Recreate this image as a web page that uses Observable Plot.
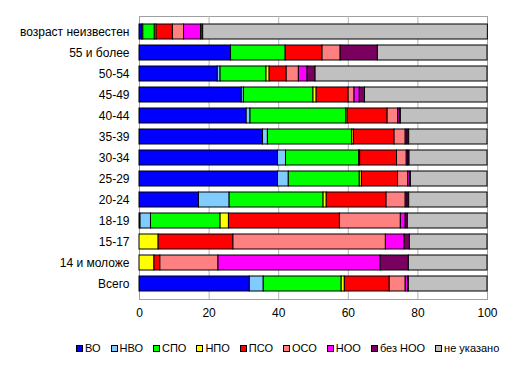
<!DOCTYPE html>
<html>
<head>
<meta charset="utf-8">
<script src="https://cdn.jsdelivr.net/npm/d3@7"></script>
<script src="https://cdn.jsdelivr.net/npm/@observablehq/plot@0.6"></script>
<style>
  body { margin: 0; background: white; font-family: Arial, "Liberation Sans", sans-serif; }
  #legend { display: flex; align-items: center; padding-left: 76px; margin-top: 16px; height: 14px; font-size: 11px; color: black; white-space: nowrap; }
  .item { display: flex; align-items: center; margin-right: 10px; white-space: nowrap; }
  .sw { width: 5px; height: 5px; border: 1px solid black; margin-right: 2px; }
</style>
</head>
<body>
<div id="chart"></div>
<script>
const categories = ["возраст неизвестен","55 и более","50-54","45-49","40-44","35-39","30-34","25-29","20-24","18-19","15-17","14 и моложе","Всего"];
const series = ["ВО","НВО","СПО","НПО","ПСО","ОСО","НОО","без НОО","не указано"];
const colors = ["#0000ff","#80ccff","#00ff00","#ffff00","#ff0000","#ff8080","#ff00ff","#7a0060","#c0c0c0"];
const xTicks = [0,20,40,60,80,100];

const vVO      = [0.7,26.3,22.5,29.4,30.8,35.5,39.8,39.8,17.1,0.3,0,0,31.7];
const vNVO     = [0.4,0,0.8,0.6,1.1,1.4,2.3,3.1,8.8,3.0,0,0,4.0];
const vSPO     = [3.3,15.7,13.2,20.0,27.5,24.2,21.0,20.4,27.0,20.0,0,0,22.4];
const vNPO     = [0.5,0,0.9,0.9,0.4,0.5,0.3,0.6,0.9,2.4,5.5,4.3,0.9];
const vPSO     = [4.7,10.6,4.9,9.2,11.5,11.7,10.6,10.4,17.2,31.9,21.5,1.7,12.9];
const vOSO     = [3.2,5.2,3.5,1.7,3.0,3.2,2.8,2.9,5.5,17.5,43.8,16.7,4.6];
const vNOO     = [4.9,0,2.5,1.5,0.5,0.5,0.4,0.5,0.5,1.4,5.4,46.6,0.7];
const vBezNOO  = [0.6,10.7,2.3,1.5,0.3,0.5,0.4,0.3,0.5,0.6,1.5,8.1,0.2];
const vNeUkaz  = [81.8,31.5,49.4,35.2,24.9,22.5,22.4,22.0,22.5,22.9,22.3,22.6,22.6];

const seriesValues = [vVO,vNVO,vSPO,vNPO,vPSO,vOSO,vNOO,vBezNOO,vNeUkaz];

const data = [];
categories.forEach((c, i) => {
  series.forEach((s, j) => {
    const v = seriesValues[j][i];
    if (v > 0) data.push({cat: c, ser: s, value: v});
  });
});

const chart = Plot.plot({
  width: 513,
  height: 325,
  marginTop: 16,
  marginLeft: 139,
  marginRight: 26,
  marginBottom: 26,
  style: {fontFamily: "Arial, 'Liberation Sans', sans-serif", fontSize: "12px", color: "black", background: "white", overflow: "visible"},
  x: {domain: [0, 100], ticks: xTicks, tickSize: 0, tickPadding: 9, label: null, line: true},
  y: {domain: categories, padding: 0.3, tickSize: 0, tickPadding: 10, label: null, line: true},
  color: {domain: series, range: colors},
  marks: [
    Plot.frame({stroke: "#a0a0a0"}),
    Plot.ruleX(xTicks.filter(d => d > 0 && d < 100), {stroke: "#b4b4b4"}),
    Plot.barX(data, Plot.stackX({y: "cat", x: "value", fill: "ser", order: null, stroke: "black", strokeWidth: 1, inset: 0}))
  ]
});
document.getElementById("chart").appendChild(chart);

const legend = document.createElement("div");
legend.id = "legend";
series.forEach((s, j) => {
  const it = document.createElement("div");
  it.className = "item";
  const sw = document.createElement("div");
  sw.className = "sw";
  sw.style.background = colors[j];
  const t = document.createElement("span");
  t.textContent = s;
  it.appendChild(sw); it.appendChild(t);
  legend.appendChild(it);
});
document.body.appendChild(legend);
</script>
</body>
</html>
